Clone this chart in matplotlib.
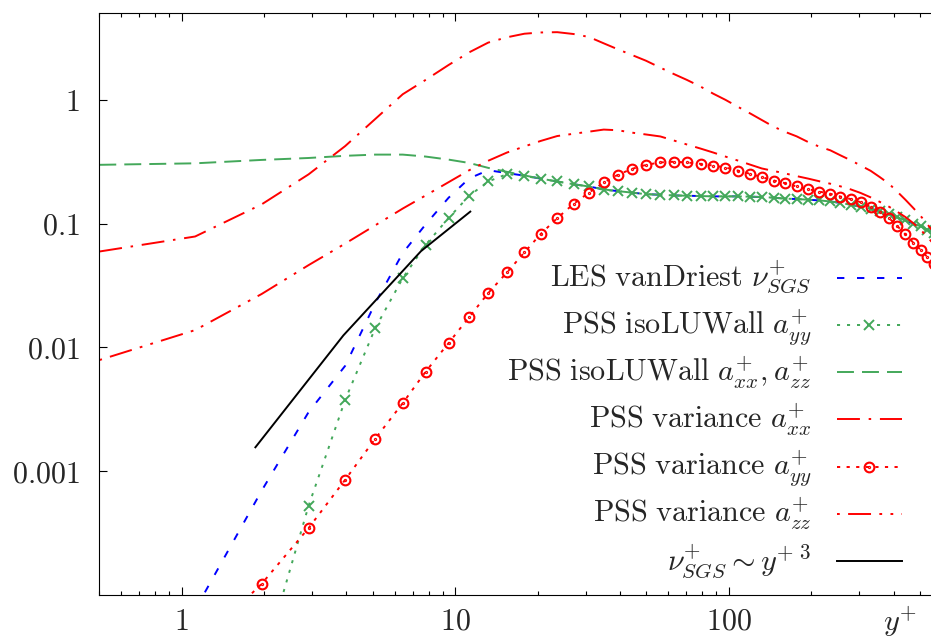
import numpy as np
import matplotlib
matplotlib.use('Agg')
import matplotlib.pyplot as plt
from matplotlib.path import Path
import matplotlib.transforms as mtrans
from matplotlib.transforms import Bbox
from matplotlib.ticker import LogLocator, NullFormatter, NullLocator

plt.rcParams['mathtext.fontset'] = 'cm'
plt.rcParams['font.family'] = ['DejaVu Serif']
plt.rcParams['lines.scale_dashes'] = False

nan = np.nan

# ---------------- data ----------------
yplus = [0.5, 1.12, 1.96, 2.91, 3.96, 5.1, 6.43, 7.8, 9.45, 11.25,
         13.2, 15.45, 17.9, 20.5, 23.6, 27.1, 30.8, 34.9, 39.3, 44.3,
         49.8, 56.2, 62.8, 70.2, 78.8, 87.8, 97.2, 108, 120, 132,
         146, 161, 177, 195, 214, 235, 256, 279, 303, 330,
         356, 385, 412, 442, 472, 503, 532, 562, 590]

les_vandriest = [nan, 7.6e-5, 0.000695, 0.0030, 0.0071, 0.0228, 0.0579, 0.0987, 0.1616, 0.232,
                 0.27, 0.256, 0.244, 0.231, 0.219, 0.208, 0.1995, 0.189, 0.183, 0.178,
                 0.173, 0.171, 0.169, 0.168, 0.167, 0.166, 0.166, 0.166, 0.165, 0.164,
                 0.162, 0.159, 0.158, 0.156, 0.154, 0.151, 0.147, 0.142, 0.137, 0.132,
                 0.126, 0.119, 0.113, 0.106, 0.100, 0.095, 0.089, 0.084, 0.079]

iso_ayy = [nan, nan, 2.6e-5, 0.000525, 0.00377, 0.0143, 0.0363, 0.0675, 0.1108, 0.168,
           0.219, 0.251, 0.243, 0.230, 0.219, 0.208, 0.1995, 0.1875, 0.183, 0.178,
           0.173, 0.171, 0.169, 0.168, 0.167, 0.166, 0.166, 0.166, 0.165, 0.164,
           0.162, 0.159, 0.158, 0.156, 0.154, 0.151, 0.147, 0.142, 0.137, 0.132,
           0.126, 0.119, 0.113, 0.106, 0.100, 0.095, 0.089, 0.084, 0.079]

iso_axx_azz = [0.2985, 0.307, 0.327, 0.339, 0.353, 0.361, 0.361, 0.348, 0.329, 0.309,
               0.282, 0.262, 0.245, 0.231, 0.219, 0.208, 0.1995, 0.189, 0.183, 0.178,
               0.173, 0.171, 0.169, 0.168, 0.167, 0.166, 0.166, 0.166, 0.165, 0.164,
               0.162, 0.159, 0.158, 0.156, 0.154, 0.151, 0.147, 0.142, 0.137, 0.132,
               0.126, 0.119, 0.113, 0.106, 0.100, 0.095, 0.089, 0.084, 0.079]

var_axx = [0.0595, 0.0787, 0.143, 0.25, 0.423, 0.70, 1.11, 1.45, 1.91, 2.42,
           2.9, 3.2, 3.42, 3.5, 3.52, 3.4, 3.22, 2.86, 2.56, 2.30,
           2.07, 1.82, 1.62, 1.45, 1.28, 1.12, 1.0, 0.878, 0.774, 0.687,
           0.606, 0.55, 0.507, 0.456, 0.419, 0.391, 0.356, 0.325, 0.295, 0.267,
           0.238, 0.21, 0.182, 0.156, 0.134, 0.115, 0.0987, 0.085, 0.073]

var_ayy = [nan, 3.7e-5, 0.000123, 0.000347, 0.000853, 0.00183, 0.00355, 0.00638, 0.01083, 0.0176,
           0.0275, 0.0403, 0.0585, 0.0822, 0.1108, 0.1445, 0.178, 0.215, 0.248, 0.277,
           0.2985, 0.312, 0.316, 0.312, 0.304, 0.294, 0.284, 0.268, 0.252, 0.2375,
           0.223, 0.212, 0.1995, 0.19, 0.1815, 0.174, 0.1656, 0.1578, 0.149, 0.1374,
           0.124, 0.111, 0.096, 0.082, 0.0703, 0.0614, 0.0537, 0.047, 0.041]

var_azz = [0.0079, 0.0138, 0.027, 0.0462, 0.069, 0.0969, 0.1324, 0.169, 0.216, 0.27,
           0.322, 0.375, 0.42, 0.465, 0.51, 0.532, 0.553, 0.575, 0.568, 0.543,
           0.525, 0.506, 0.47, 0.436, 0.404, 0.375, 0.348, 0.323, 0.299, 0.279,
           0.266, 0.254, 0.242, 0.231, 0.22, 0.21, 0.2, 0.189, 0.177, 0.163,
           0.150, 0.137, 0.125, 0.113, 0.101, 0.089, 0.078, 0.068, 0.06]

slope_x = [1.86, 3.9, 7.5, 11.35]
slope_y = [0.00156, 0.0125, 0.060, 0.125]

labels = [r'$\mathrm{LES\ vanDriest}\ \nu^{+}_{SGS}$',
          r'$\mathrm{PSS\ isoLUWall}\ a^{+}_{yy}$',
          r'$\mathrm{PSS\ isoLUWall}\ a^{+}_{xx}, a^{+}_{zz}$',
          r'$\mathrm{PSS\ variance}\ a^{+}_{xx}$',
          r'$\mathrm{PSS\ variance}\ a^{+}_{yy}$',
          r'$\mathrm{PSS\ variance}\ a^{+}_{zz}$',
          r'$\nu^{+}_{SGS} \sim y^{+\ 3}$']

xtick_vals = [1, 10, 100]
xtick_labels = [r'$1$', r'$10$', r'$100$']
ytick_vals = [0.001, 0.01, 0.1, 1]
ytick_labels = [r'$0.001$', r'$0.01$', r'$0.1$', r'$1$']

# ---------------- styles ----------------
RED = '#ff0000'
BLUE = '#0000ff'
GREEN = '#43a85a'
LW = 1.4
TXT = '#262626'
FS = 21.7

c = Path.unit_circle()
odot = Path.make_compound_path(c, c.transformed(mtrans.Affine2D().scale(0.12)))

fig = plt.figure(figsize=(9.31, 6.39), dpi=100)
left = 99.3 / 931
bottom = 1 - 595 / 639
ax = fig.add_axes([left, bottom, (939.7 - 99.3) / 931, (595 - 13.3) / 639])

h = []
h += ax.plot(yplus, les_vandriest, color=BLUE, lw=LW, ls=(0, (5.3, 9.1)),
             dash_capstyle='butt')
h += ax.plot(yplus, iso_ayy, color=GREEN, lw=LW, ls=(0, (2.2, 5.0)),
             marker='x', ms=6.5, mew=1.4, dash_capstyle='butt')
h += ax.plot(yplus, iso_axx_azz, color=GREEN, lw=LW, ls=(0, (12.2, 5.8)),
             dash_capstyle='butt')
h += ax.plot(yplus, var_axx, color=RED, lw=LW, ls=(0, (16.5, 6.3, 1.8, 6.3)),
             dash_capstyle='butt')
h += ax.plot(yplus, var_ayy, color=RED, lw=LW, ls=(0, (2.3, 4.6)),
             marker=odot, ms=7, mew=1.5, mfc='none', mec=RED, dash_capstyle='butt')
h += ax.plot(yplus, var_azz, color=RED, lw=LW, ls=(0, (2.0, 6.0, 16.5, 6.0, 2.0, 6.0)),
             dash_capstyle='butt')
h += ax.plot(slope_x, slope_y, color='black', lw=LW)

ax.set_xscale('log')
ax.set_yscale('log')
ax.set_xlim(0.5, 590)
ax.set_ylim(1e-4, 5)

ax.set_xticks(xtick_vals)
ax.set_xticklabels(xtick_labels)
ax.xaxis.set_minor_locator(LogLocator(base=10, subs=np.arange(2, 10), numticks=20))
ax.xaxis.set_minor_formatter(NullFormatter())
ax.set_yticks(ytick_vals)
ax.set_yticklabels(ytick_labels)
ax.yaxis.set_minor_locator(NullLocator())

ax.tick_params(which='both', direction='in', top=True, right=False, colors='black',
               labelcolor=TXT, labelsize=FS, width=0.8)
ax.tick_params(which='major', length=6)
ax.tick_params(which='minor', length=3)
ax.tick_params(axis='x', which='major', pad=9)
ax.tick_params(axis='y', which='major', pad=14)
for s in ax.spines.values():
    s.set_linewidth(0.8)
ax.spines['right'].set_visible(False)

ax.set_xlabel(r'$y^{+}$', fontsize=FS, color=TXT)
ax.xaxis.set_label_coords(0.953, -0.016)

leg = ax.legend(h, labels, loc='lower right', bbox_to_anchor=(0.9551, 0.0224),
                frameon=False, markerfirst=False, fontsize=FS,
                handlelength=2.16, handletextpad=0.85, labelspacing=0.0,
                handleheight=0.35, borderpad=0, borderaxespad=0)
for t in leg.get_texts():
    t.set_color(TXT)

# give every legend row the same height so rows are evenly spaced
ROW_H = 47.2 * 72 / fig.dpi   # points
ROW_D = 12.0 * 72 / fig.dpi


def _fix_row(ta):
    orig = ta.get_bbox

    def get_bbox(renderer):
        bb = orig(renderer)
        hpx = renderer.points_to_pixels(ROW_H)
        dpx = renderer.points_to_pixels(ROW_D)
        return Bbox.from_bounds(bb.x0, -dpx, bb.width, hpx)
    ta.get_bbox = get_bbox


for col in leg._legend_handle_box.get_children():
    for item in col.get_children():
        _fix_row(item.get_children()[0])

fig.savefig('out.png', dpi=100)
